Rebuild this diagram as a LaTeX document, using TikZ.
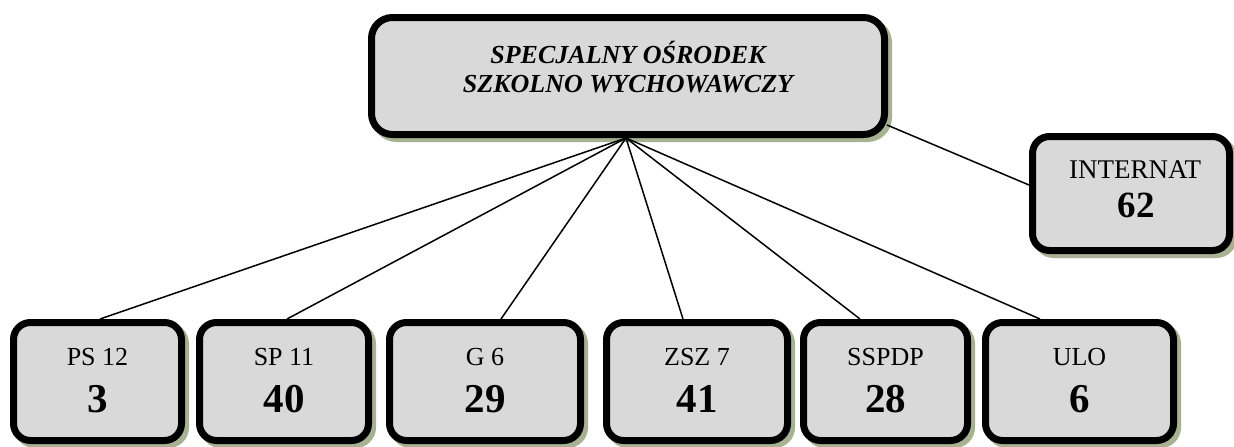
\documentclass[tikz,border=0pt]{standalone}
\usepackage{fontspec}
\setmainfont{Liberation Serif}
\definecolor{boxfill}{RGB}{217,217,217}
\definecolor{shadowc}{RGB}{166,178,146}
\tikzset{
  box/.style={draw=black, fill=boxfill, line width=7pt, rounded corners=17pt,
    inner sep=0pt, minimum width=#1,
    preaction={draw=shadowc, fill=shadowc, transform canvas={xshift=4pt,yshift=-4pt}}},
  lbl/.style={anchor=base, inner sep=0pt, font=\fontsize{26}{30}\selectfont},
  num/.style={anchor=base, inner sep=0pt, font=\fontsize{41}{46}\selectfont\bfseries},
  toptxt/.style={anchor=base, inner sep=0pt, font=\fontsize{26}{30}\selectfont\bfseries\itshape},
  conn/.style={draw=black, line width=1.5pt}
}
\begin{document}
\begin{tikzpicture}[x=1pt,y=-1pt]
\useasboundingbox (0,0) rectangle (1234,447);
% top box
\node[box=513pt, minimum height=117pt, rounded corners=21pt] (top) at (628,76) {};
\node[toptxt] (t1) at (628,63) {SPECJALNY OŚRODEK};
\node[toptxt] (t2) at (628,92) {SZKOLNO WYCHOWAWCZY};
% internat
\node[box=197pt, minimum height=114pt] (int) at (1131,193.5) {};
\node[lbl, font=\fontsize{27}{30}\selectfont] (intl) at (1135,178) {INTERNAT};
\node[num, font=\fontsize{37}{42}\selectfont\bfseries] (intn) at (1136,217) {62};
% bottom boxes
\node[box=168pt, minimum height=118pt] (ps) at (97.5,381.5) {};
\node[box=169pt, minimum height=118pt] (sp) at (284,381.5) {};
\node[box=191pt, minimum height=118pt] (g) at (485,381.5) {};
\node[box=181pt, minimum height=118pt] (zsz) at (697,381.5) {};
\node[box=164pt, minimum height=118pt] (sspdp) at (885.5,381.5) {};
\node[box=188pt, minimum height=118pt] (ulo) at (1079.5,381.5) {};
\node[lbl] (psl) at (97.5,365) {PS 12};
\node[num] (psn) at (97.5,412) {3};
\node[lbl] (spl) at (284,365) {SP 11};
\node[num] (spn) at (284,412) {40};
\node[lbl] (gl) at (485,365) {G 6};
\node[num] (gn) at (485,412) {29};
\node[lbl] (zszl) at (697,365) {ZSZ 7};
\node[num] (zszn) at (697,412) {41};
\node[lbl] (sspdpl) at (885.5,365) {SSPDP};
\node[num] (sspdpn) at (885.5,412) {28};
\node[lbl] (ulol) at (1079.5,365) {ULO};
\node[num] (ulon) at (1079.5,412) {6};
% connectors
\coordinate (hub) at ([xshift=-2pt]top.south);
\draw[conn] (hub) -- ([xshift=2.5pt]ps.north);
\draw[conn] (hub) -- ([xshift=3pt]sp.north);
\draw[conn] (hub) -- ([xshift=16pt]g.north);
\draw[conn] (hub) -- ([xshift=-14pt]zsz.north);
\draw[conn] (hub) -- ([xshift=-25.5pt]sspdp.north);
\draw[conn] (hub) -- ([xshift=-39.5pt]ulo.north);
\draw[conn] ([yshift=-49pt,xshift=-1pt]top.east) -- ([yshift=8.5pt]int.west);
\end{tikzpicture}
\end{document}
